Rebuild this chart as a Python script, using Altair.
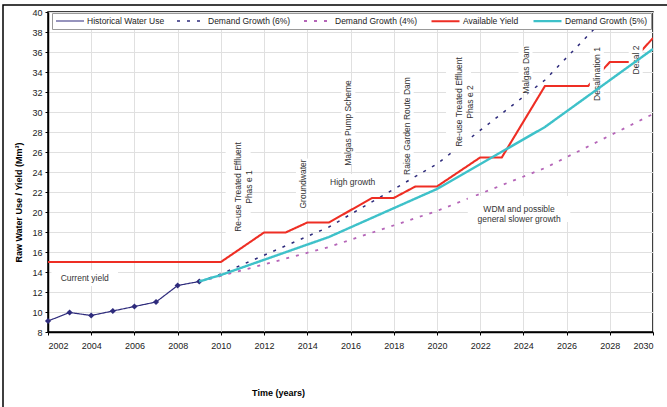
import altair as alt
import pandas as pd

# ---------------- data ----------------
hist_years = [2002, 2003, 2004, 2005, 2006, 2007, 2008, 2009]
hist_vals = [9.1, 9.95, 9.65, 10.1, 10.55, 11.0, 12.65, 13.05]

yield_years = [2002, 2010, 2012, 2013, 2014, 2015, 2017, 2018, 2019, 2020,
               2022, 2023, 2025, 2027, 2028, 2029, 2030]
yield_vals = [15.0, 15.0, 17.95, 17.95, 18.95, 18.95, 21.4, 21.4, 22.55, 22.55,
              25.45, 25.45, 32.6, 32.6, 35.0, 35.0, 37.4]

demand_years = [2009, 2010, 2015, 2020, 2025, 2030]
demand6 = [13.05, 13.8, 18.5, 24.8, 33.2, 44.4]
demand4 = [13.05, 13.6, 16.5, 20.1, 24.4, 29.8]
demand5 = [13.05, 13.7, 17.5, 22.3, 28.5, 36.3]

series_names = ["Historical Water Use", "Demand Growth (6%)", "Demand Growth (4%)",
                "Available Yield", "Demand Growth (5%)"]
series_colors = ["#2E2B7C", "#2E2B7C", "#B565B8", "#EE2E24", "#3EC1C9"]
series_dash = [[1, 0], [3, 7], [3, 7], [1, 0], [1, 0]]
series_width = [1.2, 2.4, 2.4, 2.2, 2.2]

vert_text = ["Re-use Treated Effluent\nPhas e 1", "Groundwater", "Malgas Pump  Scheme",
             "Raise Garden Route Dam", "Re-use Treated Effluent\nPhas e 2", "Malgas Dam",
             "Desalination 1", "Desal 2"]
vert_x = [2010.8, 2013.8, 2015.9, 2018.6, 2021.0, 2024.1, 2027.4, 2029.2]
vert_y = [22.5, 22.8, 28.9, 28.6, 31.0, 34.2, 33.8, 35.2]

horiz_text = ["Current yield", "High growth", "WDM and possible\ngeneral slower growth"]
horiz_x = [2003.7, 2016.1, 2023.8]
horiz_y = [13.4, 23.0, 20.3]

# ---------------- tables ----------------
rows = []
for name, yrs, vals in [
    (series_names[0], hist_years, hist_vals),
    (series_names[1], demand_years, demand6),
    (series_names[2], demand_years, demand4),
    (series_names[3], yield_years, yield_vals),
    (series_names[4], demand_years, demand5),
]:
    for yv, vv in zip(yrs, vals):
        rows.append({"series": name, "year": yv, "value": vv})
df = pd.DataFrame(rows)
hist_df = pd.DataFrame({"year": hist_years, "value": hist_vals})
vert_df = pd.DataFrame({"year": vert_x, "value": vert_y, "label": vert_text})
horiz_df = pd.DataFrame({"year": horiz_x, "value": horiz_y, "label": horiz_text})


def box_shape(w, h):
    L = max(w, h)
    a, b = w / L, h / L
    return f"M{-a:.4f},{-b:.4f}H{a:.4f}V{b:.4f}H{-a:.4f}Z", L * L


# white label backgrounds (sized from the label text)
box_rows = []
for t, xv, yv in zip(vert_text, vert_x, vert_y):
    parts = t.split("\n")
    w = len(parts) * 11 + 3
    h = max(len(p) for p in parts) * 3.9 + 8
    path, area = box_shape(w, h)
    box_rows.append({"year": xv, "value": yv, "path": path, "area": area})
for t, xv, yv in zip(horiz_text, horiz_x, horiz_y):
    parts = t.split("\n")
    w = max(len(p) for p in parts) * 4.5 + 8
    h = len(parts) * 10 + 6
    path, area = box_shape(w, h)
    box_rows.append({"year": xv, "value": yv, "path": path, "area": area})
box_df = pd.DataFrame(box_rows)

FONT = "Liberation Sans"

xscale = alt.Scale(domain=[2002, 2030], nice=False, zero=False)
yscale = alt.Scale(domain=[8, 40], nice=False, zero=False)

X = alt.X("year:Q", scale=xscale, axis=alt.Axis(
    values=list(range(2002, 2031, 2)), format="d", title="Time (years)",
    titleX=230, titleY=60, titleBaseline="middle", titleFontWeight="bold",
    titleFontSize=9, labelPadding=6, labelOverlap=False))
Y = alt.Y("value:Q", scale=yscale, axis=alt.Axis(
    values=list(range(8, 41, 2)), title="Raw Water Use / Yield (Mm³)",
    titleX=-30, titleY=190, titleBaseline="middle", titleFontWeight="bold",
    titleFontSize=9, labelPadding=3, labelOverlap=False))

COLOR = alt.Color("series:N", scale=alt.Scale(domain=series_names, range=series_colors),
                  legend=alt.Legend(title=None))
DASH = alt.StrokeDash("series:N", scale=alt.Scale(domain=series_names, range=series_dash),
                      legend=alt.Legend(title=None))
WIDTH = alt.StrokeWidth("series:N", scale=alt.Scale(domain=series_names, range=series_width),
                        legend=alt.Legend(title=None))

lines_main = alt.Chart(df).transform_filter(
    alt.datum.series != "Demand Growth (5%)"
).mark_line(clip=True).encode(x=X, y=Y, color=COLOR, strokeDash=DASH, strokeWidth=WIDTH)

lines_cyan = alt.Chart(df).transform_filter(
    alt.datum.series == "Demand Growth (5%)"
).mark_line(clip=True).encode(x=X, y=Y, color=COLOR, strokeDash=DASH, strokeWidth=WIDTH)

points = alt.Chart(hist_df).mark_point(shape="diamond", filled=True, size=38,
                                         color="#2E2B7C", opacity=1).encode(x=X, y=Y)

boxes = alt.Chart(box_df).mark_point(filled=True, color="white", opacity=1,
                                     strokeWidth=0).encode(
    x=X, y=Y,
    shape=alt.Shape("path:N", scale=None),
    size=alt.Size("area:Q", scale=None))

vtext = alt.Chart(vert_df).mark_text(angle=270, align="center", baseline="middle",
                                     fontSize=8.5, font=FONT, color="#333333",
                                     lineBreak="\n", lineHeight=11).encode(
    x=X, y=Y, text="label:N")

htext = alt.Chart(horiz_df).mark_text(align="center", baseline="middle",
                                      fontSize=8.5, font=FONT, color="#333333",
                                      lineBreak="\n", lineHeight=10).encode(
    x=X, y=Y, text="label:N")

frame = alt.Chart(pd.DataFrame({"a": [0]})).mark_rect(
    fillOpacity=0, stroke="black", strokeWidth=1.5).encode(
    x=alt.value(-45), x2=alt.value(640), y=alt.value(-7), y2=alt.value(420))

chart = alt.layer(lines_main, points, boxes, vtext, htext, lines_cyan, frame).properties(
    width=605, height=320,
    autosize=alt.AutoSizeParams(type="none"),
    padding={"left": 48, "top": 12, "right": 14, "bottom": 75},
).configure_view(stroke="black", strokeWidth=1.5).configure_axis(
    domainColor="black", domainWidth=1.5, tickColor="black", tickSize=3,
    gridColor="#e0e0e0", gridWidth=1, labelFont=FONT, labelFontSize=9,
    labelColor="#222222", titleFont=FONT, titleColor="black",
).configure_legend(
    orient="none", legendX=4, legendY=1, direction="horizontal",
    symbolType="M-1,0H7", symbolSize=49, labelFont=FONT, labelFontSize=8.5,
    labelColor="#222222", fillColor="white", strokeColor="#999999",
    padding=3, columnPadding=9, labelOffset=23, labelLimit=300,
    symbolStrokeWidth=2,
)

chart.save("out.html", embed_options={"renderer": "svg", "actions": False})
